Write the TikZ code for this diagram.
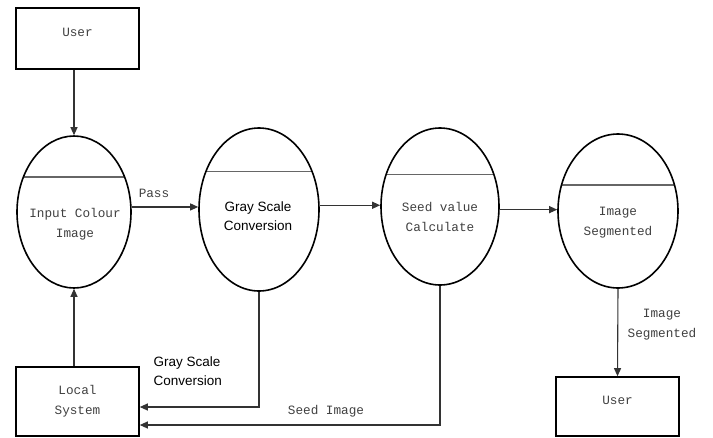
\documentclass[tikz,border=0pt]{standalone}
\usepackage{fontspec}
\setmainfont{Liberation Serif}
\setmonofont{Liberation Mono}
\setsansfont{Liberation Sans}
\usetikzlibrary{shapes.geometric,arrows.meta}

\begin{document}
\begin{tikzpicture}[x=1pt, y=-1pt,
    entity/.style={
      rectangle, draw=black, line width=1.6pt,
      minimum width=123pt, align=center,
      font=\ttfamily\fontsize{12.7}{20}\selectfont, text=black!75
    },
    proc/.style={
      ellipse, draw=black, line width=1.6pt, inner sep=0pt,
      path picture={
        \draw[line width=1.2pt, black!60]
          ([yshift=#1]path picture bounding box.west) --
          ([yshift=#1]path picture bounding box.east);
      }
    },
    ptext/.style={
      align=center, text=black!75,
      font=\ttfamily\fontsize{12.7}{20}\selectfont
    },
    stext/.style={
      align=center, text=black,
      font=\sffamily\fontsize{13.5}{19}\selectfont
    },
    flow/.style={-{Triangle[length=8pt,width=7pt]}, line width=1.1pt, black!80}
  ]
    \useasboundingbox (0,0) rectangle (713,437);

    % external entities
    \node[entity, minimum height=61pt, text depth=12pt] (u1) at (77.5,38.5) {User};
    \node[entity, minimum height=69pt] (loc) at (77.5,401.5) {Local\\System};
    \node[entity, minimum height=59pt, text depth=12pt] (u2) at (617.5,406.5) {User};

    % processes
    \node[proc=35pt, minimum width=114pt, minimum height=152pt] (p1) at (74,212) {};
    \node[proc=38pt, minimum width=120pt, minimum height=163pt] (p2) at (259,209.5) {};
    \node[proc=32pt, minimum width=118pt, minimum height=157pt] (p3) at (440,206.5) {};
    \node[proc=26pt, minimum width=120pt, minimum height=154pt] (p4) at (618,211) {};

    \node[ptext] (t1) at (75,224.5)  {Input Colour\\Image};
    \node[stext] (t2) at (258,216.5) {Gray Scale\\Conversion};
    \node[ptext] (t3) at (440,217)   {Seed value\\Calculate};
    \node[ptext] (t4) at (618,222.5) {Image\\Segmented};

    % data flows
    \draw[flow] (p1 |- u1.south) -- (p1.north);
    \draw[flow] (p1.5) -- (p1.5 -| p2.west);
    \draw[flow] (p2.4) -- (p2.4 -| p3.west);
    \draw[flow] (p3.-3) -- (p3.-3 -| p4.west);
    \draw[flow] (p4.south) -- (u2.north);
    \draw[flow] (p1 |- loc.north) -- (p1.south);
    \draw[flow] (p2.south) |- ([yshift=-5.5pt]loc.east);
    \draw[flow] (p3.south) |- ([yshift=-23.5pt]loc.east);

    \node[ptext] (l-pass) at (154,193) {Pass};
    \node[stext, anchor=west, align=left] (l-gray) at (150,371) {Gray Scale\\Conversion};
    \node[ptext] (l-seed) at (326,411) {Seed Image};
    \node[ptext] (l-seg) at (662,325) {Image\\Segmented};
  \end{tikzpicture}
\end{document}
